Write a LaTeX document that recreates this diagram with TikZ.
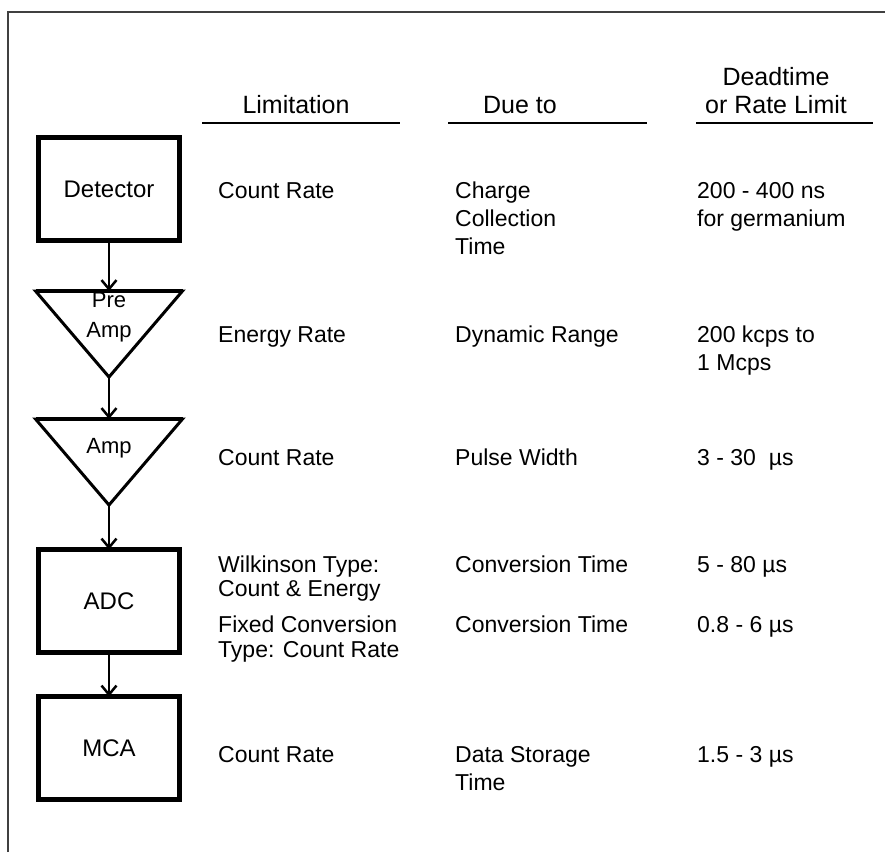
\documentclass[tikz,border=0pt]{standalone}
\usepackage{fontspec}
\setmainfont{Liberation Sans}
\usepackage{tkz-graph}
\usetikzlibrary{arrows.meta,shapes.geometric}

\tikzset{txt/.style={anchor=base west, align=left, inner sep=0pt, font=\fontsize{23}{28}\selectfont},
         hd/.style={anchor=base, align=center, inner sep=0pt, font=\fontsize{25}{28}\selectfont},
         amptext/.style={align=center, inner sep=0pt, font=\fontsize{22}{30}\selectfont}}

\begin{document}
\begin{tikzpicture}[x=1pt,y=-1pt,>={Straight Barb[length=9pt,width=15pt]}]
\useasboundingbox (0,0) rectangle (885,852);
\draw[line width=2pt, black!75] (8,852) |- (885,12);
\GraphInit[vstyle=Normal]
\SetVertexNormal[Shape = rectangle, LineWidth = 4.5pt]
\tikzset{VertexStyle/.append style={minimum width=141pt, minimum height=103pt, font=\fontsize{24}{28}\selectfont}}
\Vertex[x=109,y=189,L=Detector]{det}
\Vertex[x=109,y=601,L=ADC]{adc}
\Vertex[x=109,y=748,L=MCA]{mca}
\tikzset{VertexStyle/.append style={shape=isosceles triangle, shape border rotate=-90, anchor=lower side,
  isosceles triangle stretches, minimum width=147pt, minimum height=86pt, inner sep=0pt, line width=3pt}}
\Vertex[x=109,y=291,NoLabel]{pre}
\Vertex[x=109,y=419,NoLabel]{amp}
\draw[line width=4.5pt] (pre.left corner) -- (pre.right corner);
\draw[line width=4.5pt] (amp.left corner) -- (amp.right corner);
\node[amptext] (pretxt) at (109,317) {Pre\\Amp};
\node[amptext] (amptxt) at (109,448) {Amp};
\tikzset{EdgeStyle/.style={->, line width=2.5pt}}
\Edge[style={line width=1.5pt}](det)(pre)
\Edge(pre)(amp)
\Edge(amp)(adc)
\Edge(adc)(mca)
% column heads
\node[hd] (lim) at (296,113) {Limitation};
\node[hd] (due) at (520,113) {Due to};
\node[hd] (dead) at (776,113) {Deadtime\\or Rate Limit};
\draw[line width=1.5pt] (202,123) -- (400,123);
\draw[line width=1.5pt] (448,123) -- (647,123);
\draw[line width=1.5pt] (696,123) -- (873,123);
% rows (multi-line texts sit on their last baseline)
\node[txt] (cr1) at (218,198) {Count Rate};
\node[txt] (cct) at (455,254) {Charge\\Collection\\Time};
\node[txt] (dt1) at (697,226) {200 - 400 ns\\for germanium};
\node[txt] (er) at (218,342) {Energy Rate};
\node[txt] (dr) at (455,342) {Dynamic Range};
\node[txt] (dt2) at (697,370) {200 kcps to\\1 Mcps};
\node[txt] (cr3) at (218,465) {Count Rate};
\node[txt] (pw) at (455,465) {Pulse Width};
\node[txt] (dt3) at (697,465) {3 - 30\ \ µs};
\node[txt] (wil) at (218,596) {Wilkinson Type:\\[-4pt]Count \& Energy};
\node[txt] (ct1) at (455,572) {Conversion Time};
\node[txt] (dt4) at (697,572) {5 - 80 µs};
\node[txt] (fix) at (218,657) {Fixed Conversion\\[-3pt]Type: Count Rate};
\node[txt] (ct2) at (455,632) {Conversion Time};
\node[txt] (dt5) at (697,632) {0.8 - 6 µs};
\node[txt] (cr6) at (218,762) {Count Rate};
\node[txt] (dst) at (455,790) {Data Storage\\Time};
\node[txt] (dt6) at (697,762) {1.5 - 3 µs};
\end{tikzpicture}
\end{document}
